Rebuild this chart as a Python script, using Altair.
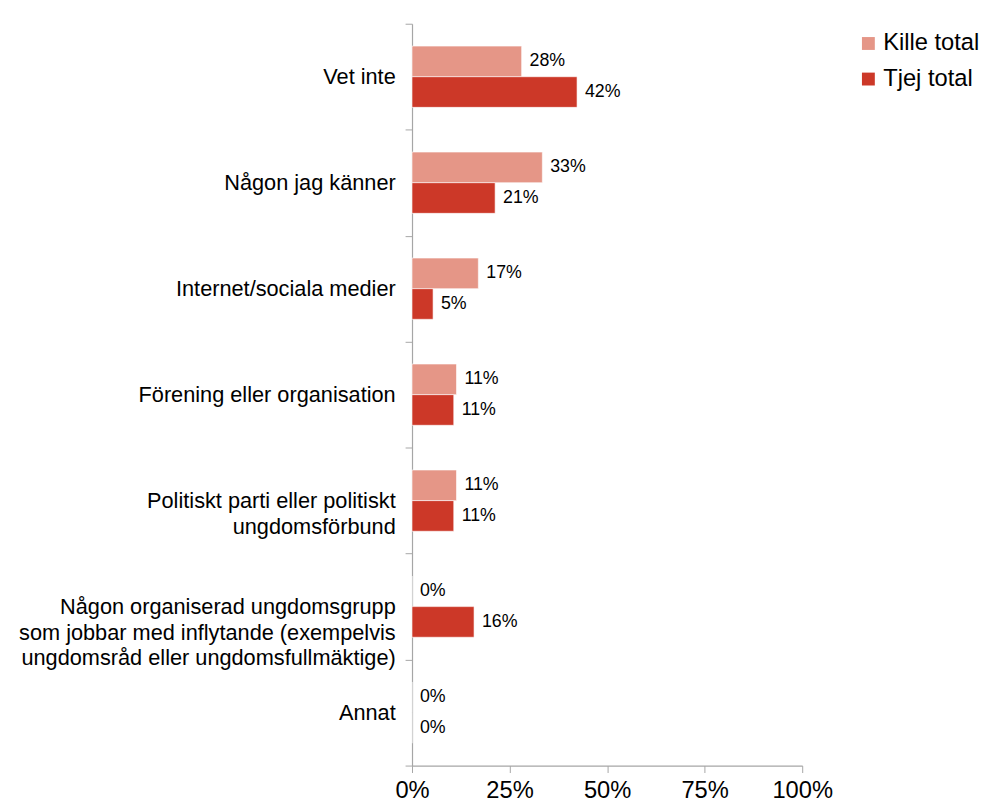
import altair as alt
import pandas as pd

categories = [
    "Vet inte",
    "Någon jag känner",
    "Internet/sociala medier",
    "Förening eller organisation",
    "Politiskt parti eller politiskt|ungdomsförbund",
    "Någon organiserad ungdomsgrupp|som jobbar med inflytande (exempelvis|ungdomsråd eller ungdomsfullmäktige)",
    "Annat",
]
series_names = ["Kille total", "Tjej total"]
kille = [28.1, 33.4, 17.0, 11.4, 11.4, 0.0, 0.0]
tjej = [42.3, 21.3, 5.4, 10.7, 10.7, 15.9, 0.0]
colors = ["#E59687", "#CC3828"]
x_ticks = [0, 25, 50, 75, 100]

rows = []
for i, c in enumerate(categories):
    rows.append({"category": c, "series": series_names[0], "value": kille[i]})
    rows.append({"category": c, "series": series_names[1], "value": tjej[i]})
df = pd.DataFrame(rows)
df["label"] = df["value"].round(0).astype(int).astype(str) + "%"

FONT = "Liberation Sans"

y_enc = alt.Y(
    "category:N",
    sort=categories,
    scale=alt.Scale(paddingInner=0, paddingOuter=0),
    axis=alt.Axis(
        title=None,
        labelExpr="split(datum.label, '|')",
        labelFont=FONT,
        labelFontSize=22,
        labelColor="#000000",
        labelLimit=600,
        labelLineHeight=26,
        labelPadding=10,
        tickBand="extent",
        tickSize=7,
        tickColor="#A6A6A6",
        domainColor="#A6A6A6",
        domainWidth=1.2,
        grid=False,
    ),
)
yoff = alt.YOffset(
    "series:N", sort=series_names, scale=alt.Scale(paddingInner=0, paddingOuter=0.73)
)

bars = alt.Chart(df).mark_bar(stroke="white", strokeWidth=0.6).encode(
    x=alt.X(
        "value:Q",
        scale=alt.Scale(domain=[0, 100], nice=False),
        axis=alt.Axis(
            title=None,
            values=x_ticks,
            labelExpr="datum.value + '%'",
            labelFont=FONT,
            labelFontSize=24,
            labelColor="#000000",
            labelPadding=6,
            labelFlush=False,
            tickSize=7,
            tickColor="#A6A6A6",
            domainColor="#A6A6A6",
            domainWidth=1.2,
            grid=False,
        ),
    ),
    y=y_enc,
    yOffset=yoff,
    color=alt.Color(
        "series:N",
        sort=series_names,
        scale=alt.Scale(domain=series_names, range=colors),
        legend=alt.Legend(
            title=None,
            orient="none",
            legendX=450,
            legendY=8,
            symbolType="square",
            symbolSize=170,
            symbolStrokeWidth=0,
            labelFont=FONT,
            labelFontSize=24,
            labelColor="#000000",
            rowPadding=12,
            labelOffset=3,
        ),
    ),
)

labels = alt.Chart(df).mark_text(
    align="left", baseline="middle", dx=8, font=FONT, fontSize=18, color="#000000"
).encode(
    x=alt.X("value:Q"),
    y=alt.Y("category:N", sort=categories),
    yOffset=alt.YOffset("series:N", sort=series_names),
    text="label:N",
)

chart = (
    alt.layer(bars, labels)
    .properties(
        width=395,
        height=751,
        background="white",
        padding={"left": 10, "top": 0, "right": 0, "bottom": 0},
    )
    .configure_view(strokeWidth=0, stroke="transparent")
)

chart.save("out.html", embed_options={"renderer": "svg", "actions": False})
